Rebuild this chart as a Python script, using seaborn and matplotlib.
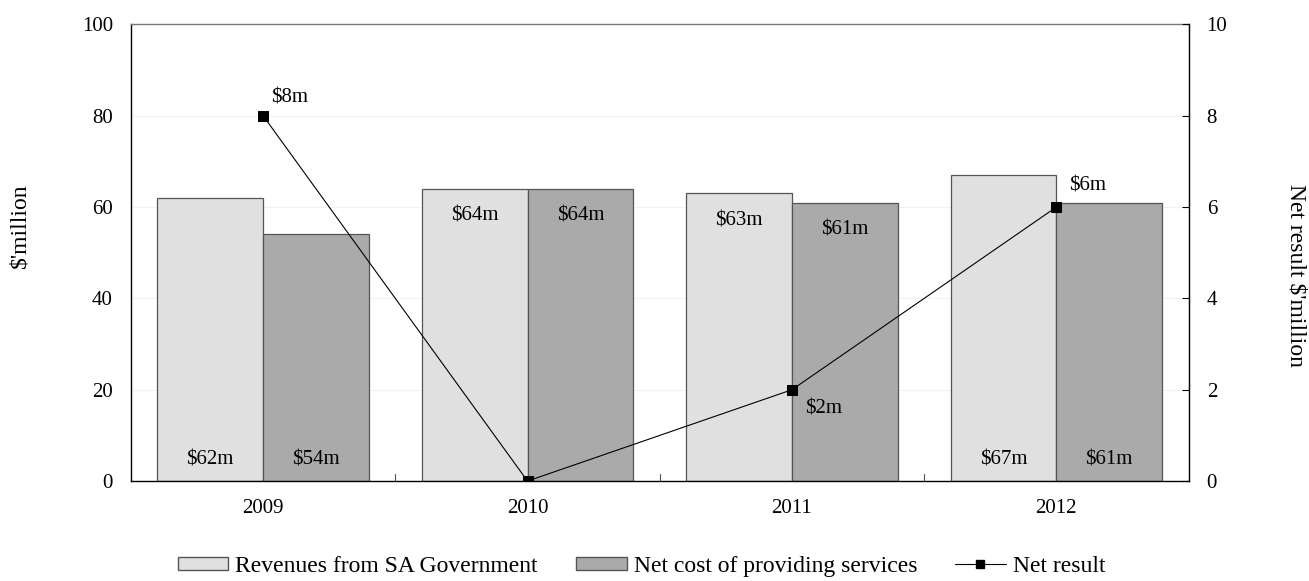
import matplotlib
matplotlib.use("Agg")
import matplotlib.pyplot as plt
import seaborn as sns
import pandas as pd
import numpy as np
from matplotlib.patches import Patch
from matplotlib.lines import Line2D

years = ["2009", "2010", "2011", "2012"]
revenues = [62, 64, 63, 67]
net_cost = [54, 64, 61, 61]
net_result = [8, 0, 2, 6]
series_names = ["Revenues from SA Government", "Net cost of providing services", "Net result"]
# where each year's bar labels sit: near the base or near the top of the bar
label_pos = ["bottom", "top", "top", "bottom"]

sns.set_style("white")
plt.rcParams["font.family"] = ["Liberation Serif", "DejaVu Serif"]
FS = 15        # ticks and value labels
FS_BIG = 17    # axis titles and legend
plt.rcParams.update({
    "font.size": FS,
    "text.color": "black",
    "axes.labelcolor": "black",
    "xtick.color": "black",
    "ytick.color": "black",
})

df = pd.DataFrame({
    "year": years * 2,
    "value": revenues + net_cost,
    "series": [series_names[0]] * 4 + [series_names[1]] * 4,
})

fig, ax = plt.subplots(figsize=(13.09, 5.81), dpi=100)
fig.subplots_adjust(left=0.1, right=0.908, top=0.958, bottom=0.172)

colors = ["#e0e0e0", "#aaaaaa"]
sns.barplot(data=df, x="year", y="value", hue="series", palette=colors,
            width=0.8, gap=0, edgecolor="#555555", linewidth=0.9,
            legend=False, ax=ax)

ax.set_ylim(0, 100)
ax.set_yticks(np.arange(0, 101, 20))
ax.set_xlim(-0.5, 3.5)
ax.set_xlabel("")
ax.set_ylabel("$'million", fontsize=FS_BIG, va="center")
ax.yaxis.set_label_coords(-0.105, 0.56)
for y in [20, 40, 60, 80]:
    ax.axhline(y, color="#f2f2f2", lw=0.8, zorder=0)
ax.tick_params(axis="y", length=0, pad=13, labelsize=FS)
ax.tick_params(axis="x", length=0, pad=13, labelsize=FS)
# small ticks at category boundaries
for b in [0.5, 1.5, 2.5]:
    ax.plot([b, b], [0, 1.5], color="#555555", lw=0.8, clip_on=False)
for side in ["top", "right"]:
    ax.spines[side].set_visible(True)
for s in ax.spines.values():
    s.set_linewidth(1.0)
ax.spines["top"].set_color("#777777")
ax.spines["left"].set_color("black")
ax.spines["bottom"].set_color("black")

# value labels on the bars
for cont, vals in zip(ax.containers[:2], [revenues, net_cost]):
    for rect, v, pos in zip(cont, vals, label_pos):
        cx = rect.get_x() + rect.get_width() / 2
        y = 4.6 if pos == "bottom" else v - 6
        ax.text(cx, y, f"${v}m", ha="center", va="center", fontsize=FS)

# net result line on secondary axis
ax2 = ax.twinx()
xpos = ax.get_xticks()
sns.lineplot(x=xpos, y=net_result, ax=ax2, color="black", lw=0.8,
             marker="s", markersize=7, markeredgecolor="black", legend=False)
ax2.set_ylim(0, 10)
ax2.set_yticks(np.arange(0, 11, 2))
ax2.tick_params(axis="y", direction="in", length=5, pad=13, labelsize=FS)
ax2.set_ylabel("Net result $'million", rotation=270, fontsize=FS_BIG, va="center")
ax2.yaxis.set_label_coords(1.102, 0.45)
ax2.spines["right"].set_color("black")
for side in ["top", "left", "bottom"]:
    ax2.spines[side].set_visible(False)

# pixel offsets of the net result labels from their markers
offsets = {0: (26, 18), 2: (32, -19), 3: (31, 21)}
for i, v in enumerate(net_result):
    if i not in offsets:
        continue
    ax2.annotate(f"${v}m", (xpos[i], v), xytext=offsets[i], textcoords="offset pixels",
                 ha="center", va="center", fontsize=FS)

handles = [
    Patch(facecolor=colors[0], edgecolor="#555555", label=series_names[0]),
    Patch(facecolor=colors[1], edgecolor="#555555", label=series_names[1]),
    Line2D([0], [0], color="black", lw=0.8, marker="s", markersize=6, label=series_names[2]),
]
fig.legend(handles=handles, loc="center", ncol=3, frameon=False,
           bbox_to_anchor=(0.49, 0.025), fontsize=FS_BIG, handlelength=2.15,
           handleheight=0.5, columnspacing=1.6, handletextpad=0.3)

fig.savefig("out.png", dpi=100)
